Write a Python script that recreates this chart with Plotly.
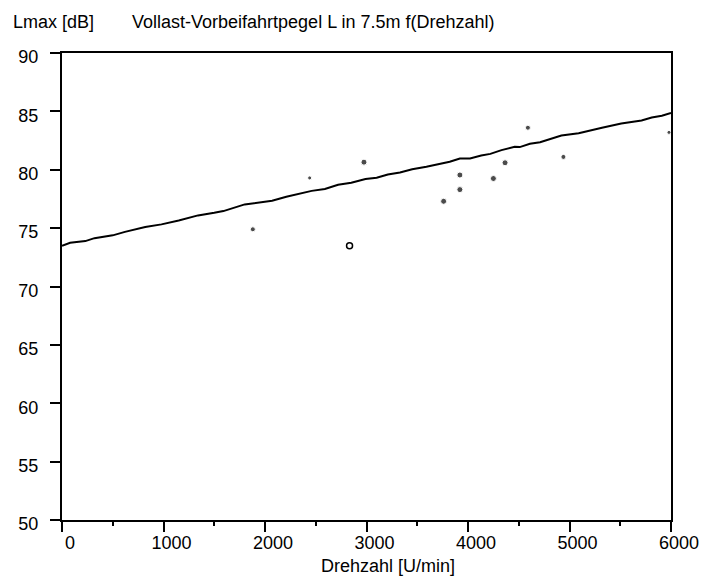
import plotly.graph_objects as go

# Regression-like curve
line_x = [0, 80, 230, 320, 500, 620, 820, 980, 1150, 1280, 1340, 1500, 1590, 1800,
          2070, 2210, 2360, 2460, 2590, 2720, 2850, 2990, 3100, 3210, 3330, 3450,
          3590, 3740, 3820, 3920, 4020, 4130, 4220, 4330, 4460, 4510, 4610, 4710,
          4830, 4920, 5090, 5220, 5320, 5510, 5710, 5810, 5910, 6000]
line_y = [73.48, 73.74, 73.89, 74.14, 74.38, 74.68, 75.09, 75.32, 75.66, 75.92,
          76.09, 76.31, 76.46, 77.03, 77.34, 77.68, 77.97, 78.19, 78.36, 78.71,
          78.88, 79.20, 79.31, 79.60, 79.77, 80.05, 80.25, 80.57, 80.68, 80.97,
          80.97, 81.22, 81.36, 81.68, 81.96, 81.94, 82.22, 82.36, 82.68, 82.94,
          83.13, 83.36, 83.59, 83.96, 84.22, 84.48, 84.62, 84.87]

# Measured points
pts_x = [1880, 2440, 2975, 3760, 3920, 3920, 4250, 4365, 4590, 4940, 5980]
pts_y = [74.9, 79.3, 80.65, 77.3, 79.55, 78.3, 79.25, 80.6, 83.6, 81.1, 83.2]
pts_size = [5, 4, 6, 6, 6, 6, 6, 6, 5, 5, 4]

open_x = [2833]
open_y = [73.5]

x_ticks = [0, 1000, 2000, 3000, 4000, 5000, 6000]
y_ticks = [50, 55, 60, 65, 70, 75, 80, 85, 90]

FONT = "Liberation Sans, Arial, sans-serif"
W, H = 704, 578
L, R, T, B = 62, 33, 53, 58
PW, PH = W - L - R, H - T - B

fig = go.Figure()
fig.add_trace(go.Scatter(x=line_x, y=line_y, mode="lines",
                         line=dict(color="black", width=2), showlegend=False,
                         hoverinfo="skip"))
fig.add_trace(go.Scatter(x=pts_x, y=pts_y, mode="markers",
                         marker=dict(color="black", size=pts_size, symbol="circle"),
                         showlegend=False))
fig.add_trace(go.Scatter(x=open_x, y=open_y, mode="markers",
                         marker=dict(color="black", size=6, symbol="circle-open",
                                     line=dict(width=1.5)),
                         showlegend=False))

fig.update_layout(
    width=W, height=H,
    margin=dict(l=L, r=R, t=T, b=B),
    paper_bgcolor="white", plot_bgcolor="white",
    font=dict(family=FONT, size=18, color="black"),
    xaxis=dict(range=[0, 6000], tickvals=x_ticks, ticktext=[str(v) for v in x_ticks],
               automargin=False,
               showgrid=False, zeroline=False,
               showline=True, linecolor="black", linewidth=2, mirror=True,
               ticks="outside", ticklen=10, tickwidth=1.5, tickcolor="black",
               ticklabelshift=8, ticklabelstandoff=-5,
               minor=dict(dtick=500, tick0=0, ticks="outside", ticklen=4,
                          tickwidth=1.5, tickcolor="black", showgrid=False)),
    yaxis=dict(range=[50, 90], tickvals=y_ticks, ticktext=[str(v) for v in y_ticks],
               automargin=False,
               showgrid=False, zeroline=False,
               showline=True, linecolor="black", linewidth=2, mirror=True,
               ticks="outside", ticklen=10, tickwidth=1.5, tickcolor="black",
               ticklabelshift=4, ticklabelstandoff=8),
    annotations=[
        dict(text="Lmax [dB]", xref="paper", yref="paper", x=-L/PW, y=1 + 31/PH,
             xanchor="left", yanchor="middle", showarrow=False,
             font=dict(size=18), xshift=11),
        dict(text="Vollast-Vorbeifahrtpegel L in 7.5m f(Drehzahl)", xref="paper",
             yref="paper", x=-L/PW, y=1 + 31/PH, xanchor="left", yanchor="middle",
             showarrow=False, font=dict(size=18), xshift=130),
        dict(text="Drehzahl [U/min]", xref="paper", yref="paper",
             x=(388 - L)/PW, y=-(566 - (T + PH))/PH,
             xanchor="center", yanchor="middle", showarrow=False,
             font=dict(size=18)),
    ],
)

fig.write_html("out.html")
